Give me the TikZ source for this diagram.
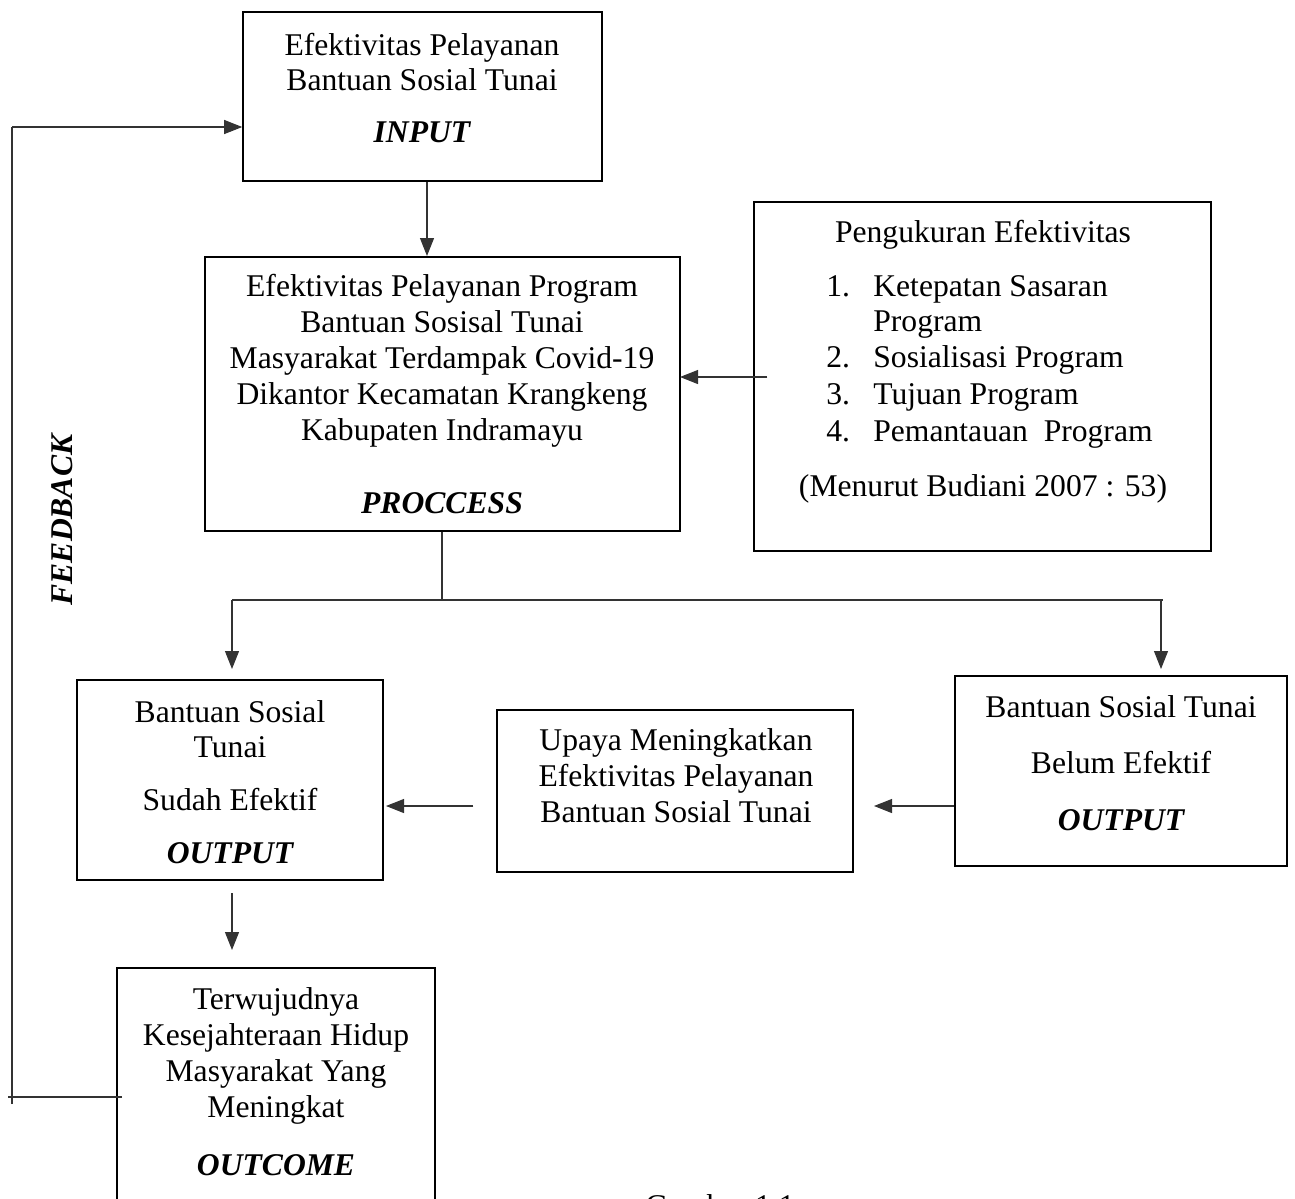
\documentclass[tikz,border=0pt]{standalone}
\usepackage{fontspec}
\setmainfont{Liberation Serif}
\usetikzlibrary{arrows.meta,fit}
\begin{document}
\begin{tikzpicture}[x=0.02cm,y=-0.02cm,
  box/.style={draw=black,line width=0.9pt,inner sep=0pt},
  txt/.style={inner sep=0pt,anchor=base,font=\fontsize{18}{20.5}\selectfont},
  btxt/.style={inner sep=0pt,anchor=base,font=\fontsize{18}{20.5}\selectfont\bfseries\itshape},
  conn/.style={draw=black!80,line width=0.6pt},
  arr/.style={conn,-{Triangle[length=0.36cm,width=0.28cm]}}]
\useasboundingbox (0,0) rectangle (1295,1198);
% boxes
\node[box,fit={(243,12)(602,181)}] (input) {};
\node[box,fit={(205,257)(680,531)}] (proc) {};
\node[box,fit={(754,202)(1211,551)}] (meas) {};
\node[box,fit={(77,680)(383,880)}] (sudah) {};
\node[box,fit={(497,710)(853,872)}] (upaya) {};
\node[box,fit={(955,676)(1287,866)}] (belum) {};
\node[box,fit={(117,968)(435,1260)}] (outcome) {};
% texts (baselines)
\node[txt] (t1) at (422,55) {Efektivitas Pelayanan};
\node[txt] (t2) at (422,90) {Bantuan Sosial Tunai};
\node[btxt] (t3) at (422,142) {INPUT};
\node[txt] (p1) at (442,296) {Efektivitas Pelayanan Program};
\node[txt] (p2) at (442,332) {Bantuan Sosisal Tunai};
\node[txt] (p3) at (442,368) {Masyarakat Terdampak Covid-19};
\node[txt] (p4) at (442,404) {Dikantor Kecamatan Krangkeng};
\node[txt] (p5) at (442,440) {Kabupaten Indramayu};
\node[btxt] (p6) at (442,513) {PROCCESS};
\node[txt] (m0) at (983,242) {Pengukuran Efektivitas};
\node[txt,anchor=base west] (n1) at (826,296) {1.};
\node[txt,anchor=base west] (m1) at (873,296) {Ketepatan Sasaran};
\node[txt,anchor=base west] (m1b) at (873,331) {Program};
\node[txt,anchor=base west] (n2) at (826,367) {2.};
\node[txt,anchor=base west] (m2) at (873,367) {Sosialisasi Program};
\node[txt,anchor=base west] (n3) at (826,404) {3.};
\node[txt,anchor=base west] (m3) at (873,404) {Tujuan Program};
\node[txt,anchor=base west] (n4) at (826,441) {4.};
\node[txt,anchor=base west] (m4) at (873,441) {Pemantauan\ \ Program};
\node[txt] (m5) at (983,496) {(Menurut Budiani 2007 : 53)};
\node[txt] (s1) at (230,722) {Bantuan Sosial};
\node[txt] (s2) at (230,757) {Tunai};
\node[txt] (s3) at (230,810) {Sudah Efektif};
\node[btxt] (s4) at (230,863) {OUTPUT};
\node[txt] (u1) at (676,750) {Upaya Meningkatkan};
\node[txt] (u2) at (676,786) {Efektivitas Pelayanan};
\node[txt] (u3) at (676,822) {Bantuan Sosial Tunai};
\node[txt] (b1) at (1121,717) {Bantuan Sosial Tunai};
\node[txt] (b2) at (1121,773) {Belum Efektif};
\node[btxt] (b3) at (1121,830) {OUTPUT};
\node[txt] (o1) at (276,1009) {Terwujudnya};
\node[txt] (o2) at (276,1045) {Kesejahteraan Hidup};
\node[txt] (o3) at (276,1081) {Masyarakat Yang};
\node[txt] (o4) at (276,1117) {Meningkat};
\node[btxt] (o5) at (276,1175) {OUTCOME};
\node[btxt,rotate=90,anchor=center] (fb) at (62,520) {FEEDBACK};
\node[txt] (cap) at (720,1216) {Gambar 1.1};
% connectors
\coordinate (a1) at (427,256);
\draw[arr] (input.south -| a1) -- (a1);
\coordinate (a2) at (680,377);
\draw[arr] ([xshift=8]meas.west |- a2) -- (a2);
\coordinate (j0) at (442,600);
\coordinate (jl) at (232,600);
\coordinate (jr) at (1163,600);
\coordinate (al) at (232,669);
\coordinate (ar) at (1161,669);
\draw[conn] (proc.south -| j0) -- (j0);
\draw[conn] (jl) -- (jr);
\draw[arr] (jl) -- (al);
\draw[arr] (jr -| ar) -- (ar);
\coordinate (a3) at (386,806);
\draw[arr] ([xshift=-13]upaya.west |- a3) -- (a3);
\coordinate (a4) at (874,806);
\draw[arr] (belum.west |- a4) -- (a4);
\coordinate (a5t) at (232,893);
\coordinate (a5) at (232,950);
\draw[arr] (a5t) -- (a5);
\coordinate (f0) at (122,1097);
\coordinate (f1) at (8,1097);
\coordinate (f2) at (12,1104);
\coordinate (f3) at (12,127);
\draw[conn] (f0) -- (f1);
\draw[conn] (f2) -- (f3);
\draw[arr] (f3) -- (input.west |- f3);
\end{tikzpicture}
\end{document}
